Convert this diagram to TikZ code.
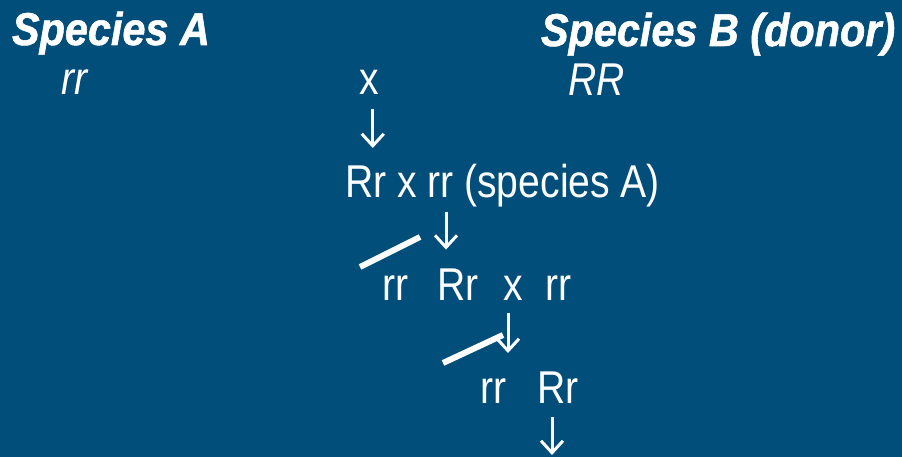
\documentclass[tikz,border=0pt]{standalone}
\usepackage{fontspec}
\usepackage{tikz}
\usetikzlibrary{arrows.meta}

\newfontfamily\plainfont[FakeStretch=0.85]{Liberation Sans}
\newfontfamily\headfont[FakeStretch=0.9,FakeBold=1.2]{Liberation Sans}
\definecolor{slideblue}{RGB}{0,78,121}

\begin{document}
\begin{tikzpicture}[x=1pt,y=-1pt,every node/.style={inner sep=0pt, outer sep=0pt, anchor=base west, text=white, font=\plainfont\fontsize{46}{50}\selectfont},
  head/.style={font=\headfont\fontsize{46}{50}\selectfont\bfseries\itshape},
  arr/.style={white, line width=3pt, -{Straight Barb[length=12pt,width=22pt]}},
  cut/.style={white, line width=6pt}]
\useasboundingbox (0,0) rectangle (902,457);
\fill[slideblue] (0,0) rectangle (902,457);
% parents
\node[head] (spA) at (12,45) {Species A};
\node[head] (spB) at (541,46) {Species B (donor)};
\node (gA) at (61,95) {\itshape rr};
\node (cross1) at (359,95) {x};
\node (gB) at (568,96) {\itshape RR};
% first backcross
\node (f1) at (345,198) {Rr x rr (species A)};
% second generation
\node (b1rr) at (382,300) {rr};
\node (b1Rr) at (437,300) {Rr};
\node (cross2) at (503,300) {x};
\node (b1rr2) at (545,300) {rr};
% third generation
\node (b2rr) at (480,403) {rr};
\node (b2Rr) at (537,403) {Rr};
% arrows
\draw[arr] ([xshift=4pt,yshift=-14pt]cross1.south) -- ++(0,39);
\draw[arr] ([yshift=-4pt]f1.south -| 446,0) -- ++(0,38);
\draw[arr] ([yshift=-13pt]cross2.south -| 508,0) -- ++(0,40);
\draw[arr] ([yshift=-14pt]b2Rr.south -| 552,0) -- ++(0,38);
% discarded lines
\draw[cut] (360,267) -- (420,237);
\draw[cut] (443,363) -- (503,335);
\end{tikzpicture}
\end{document}
